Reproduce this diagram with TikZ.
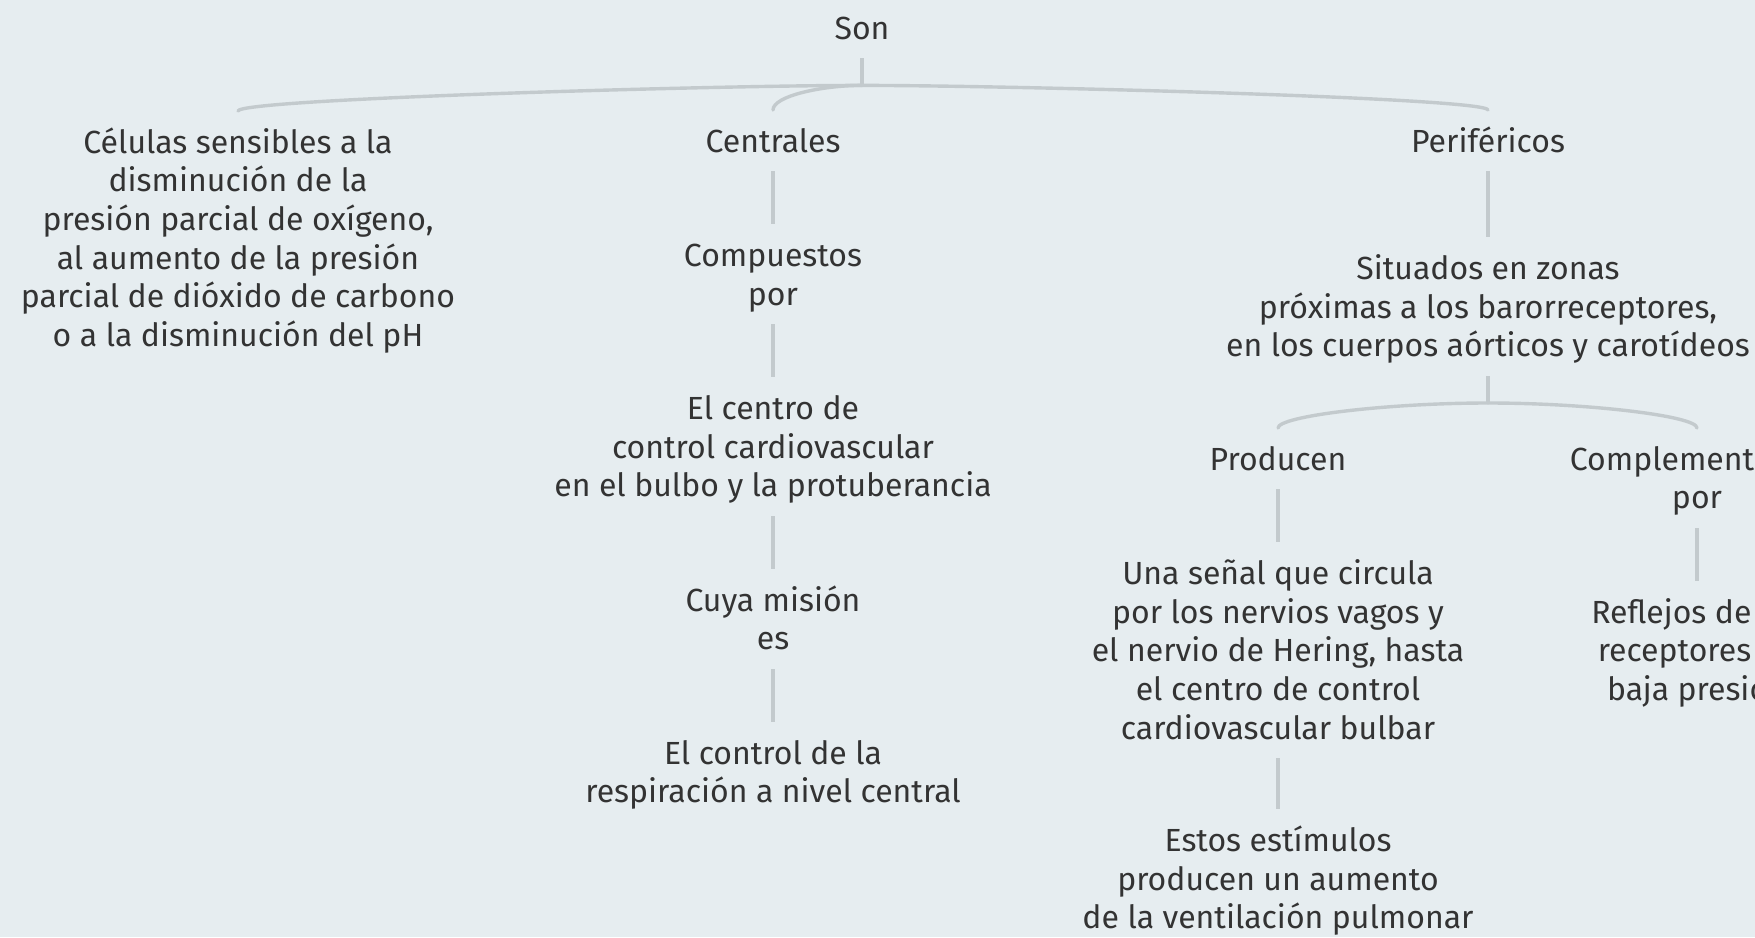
\documentclass[tikz,border=0pt]{standalone}
\usepackage{fontspec}
\setmainfont{Fira Sans}
\usetikzlibrary{positioning}
\definecolor{bgblue}{RGB}{230,237,240}
\definecolor{linkgray}{RGB}{195,202,205}
\definecolor{textgray}{RGB}{51,51,51}
\newcommand{\headstrut}{\rule{0pt}{42pt}}

\begin{document}
\begin{tikzpicture}[
    x=1pt, y=-1pt,
    node distance=53pt,
    topic/.style={align=center, inner sep=0pt, text=textgray,
        font=\fontsize{32}{38.6}\selectfont,
        execute at end node={\rule[-19pt]{0pt}{19pt}}},
    link/.style={draw=linkgray, line width=4pt},
    branch/.style={draw=linkgray, line width=3.4pt, line cap=round}
]
    \useasboundingbox (0,0) rectangle (1755,937);
    \fill[bgblue] (0,0) rectangle (1755,937);
    \clip (0,0) rectangle (1755,937);

    % root
    \node [topic, anchor=north] (son) at (862,-3) {\headstrut Son};
    \coordinate (sonjunc) at ([yshift=-27pt]son.south);

    % left
    \node [topic, anchor=north] (celulas) at (238,111) {\headstrut Células sensibles a la\\disminución de la\\presión parcial de oxígeno,\\al aumento de la presión\\parcial de dióxido de carbono\\o a la disminución del pH};

    % centre
    \node [topic, anchor=north] (centrales) at (773,110) {\headstrut Centrales};
    \node [topic, below=of centrales] (compuestos) {\headstrut Compuestos\\por};
    \node [topic, below=of compuestos] (centro) {\headstrut El centro de\\control cardiovascular\\en el bulbo y la protuberancia};
    \node [topic, below=of centro] (mision) {\headstrut Cuya misión\\es};
    \node [topic, below=of mision] (control) {\headstrut El control de la\\respiración a nivel central};

    % right
    \node [topic, anchor=north] (perifericos) at (1488,110) {\headstrut Periféricos};
    \node [topic, below=66pt of perifericos] (situados) {\headstrut Situados en zonas\\próximas a los barorreceptores,\\en los cuerpos aórticos y carotídeos};
    \coordinate (sitjunc) at ([yshift=-27pt]situados.south);
    \node [topic, anchor=north] (producen) at (1278,428) {\headstrut Producen};
    \node [topic, below=of producen] (senal) {\headstrut Una señal que circula\\por los nervios vagos y\\el nervio de Hering, hasta\\el centro de control\\cardiovascular bulbar};
    \node [topic, below=51pt of senal] (estimulos) {\headstrut Estos estímulos\\producen un aumento\\de la ventilación pulmonar};
    \node [topic, anchor=north] (complementados) at (1697,428) {\headstrut Complementados\\por};
    \node [topic, below=of complementados] (reflejos) {\headstrut Reflejos de los\\receptores de\\baja presión};

    % connectors
    \draw [link] (son.south) -- (sonjunc);
    \draw [branch] (sonjunc) .. controls ([xshift=-150pt]sonjunc) and ([yshift=12pt]celulas.north) .. (celulas.north);
    \draw [branch] (sonjunc) .. controls ([xshift=-40pt]sonjunc) and ([yshift=14pt]centrales.north) .. (centrales.north);
    \draw [branch] (sonjunc) .. controls ([xshift=150pt]sonjunc) and ([yshift=12pt]perifericos.north) .. (perifericos.north);
    \draw [link] (centrales) -- (compuestos);
    \draw [link] (compuestos) -- (centro);
    \draw [link] (centro) -- (mision);
    \draw [link] (mision) -- (control);
    \draw [link] (perifericos) -- (situados);
    \draw [link] (situados.south) -- (sitjunc);
    \draw [branch] (sitjunc) .. controls ([xshift=-100pt]sitjunc) and ([yshift=12pt]producen.north) .. (producen.north);
    \draw [branch] (sitjunc) .. controls ([xshift=100pt]sitjunc) and ([yshift=12pt]complementados.north) .. (complementados.north);
    \draw [link] (producen) -- (senal);
    \draw [link] (senal) -- (estimulos);
    \draw [link] (complementados) -- (reflejos);
\end{tikzpicture}
\end{document}
